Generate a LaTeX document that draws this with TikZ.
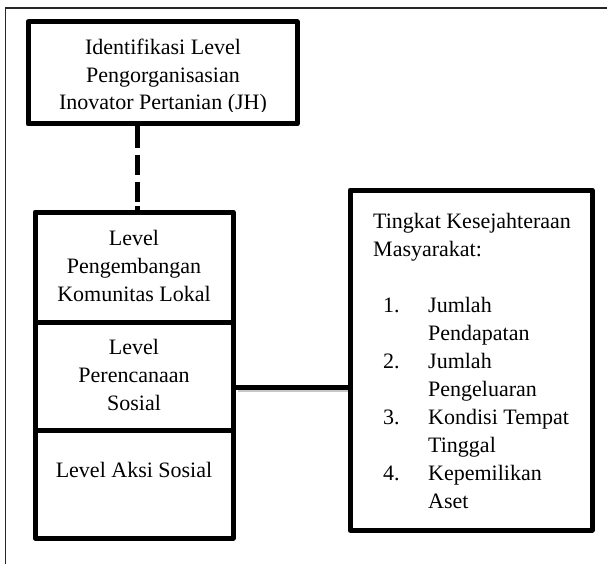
\documentclass[tikz,border=0pt]{standalone}
\usepackage{fontspec}
\setmainfont{Liberation Serif}
\usetikzlibrary{calc}
\begin{document}
\begin{tikzpicture}[x=1pt,y=-1pt,
  box/.style={draw, line width=5pt, line join=round, inner sep=0pt, fill=white},
  txt/.style={font=\fontsize{22}{27.8}\selectfont, inner sep=0pt, align=center, anchor=base},
  ltxt/.style={font=\fontsize{22}{28}\selectfont, inner sep=0pt, align=left, anchor=base west},
  conn/.style={line width=5pt},
  frame/.style={line width=1.6pt, black!85}]
\useasboundingbox (0,0) rectangle (607,564);
% outer frame
\draw[frame] (5.5,564) -- (5.5,8) -- (607,8);
% boxes
\node[box, minimum width=269pt, minimum height=102pt] (top) at (162.5,73) {};
\node[box, minimum width=198pt, minimum height=110pt] (b1) at (134,267) {};
\node[box, minimum width=198pt, minimum height=108pt] (b2) at (134,376) {};
\node[box, minimum width=198pt, minimum height=108pt] (b3) at (134,484) {};
\node[box, minimum width=242pt, minimum height=340pt] (r) at (471,360) {};
% texts (anchor = baseline of the last line)
\begin{scope}
\clip (28,22) rectangle (297,112);
\node[txt] (ttop) at (163,110) {Identifikasi Level\\Pengorganisasian\\Inovator Pertanian (JH)};
\end{scope}
\node[txt] (t1) at (134,301) {Level\\Pengembangan\\Komunitas Lokal};
\node[txt] (t2) at (134,410) {Level\\Perencanaan\\Sosial};
\node[txt] (t3) at (134,477) {Level Aksi Sosial};
\node[ltxt] (tr) at (373,508) {Tingkat Kesejahteraan\\Masyarakat:\\\mbox{}\\
\hspace*{10pt}\makebox[45pt][l]{1.}Jumlah\\\hspace*{55pt}Pendapatan\\
\hspace*{10pt}\makebox[45pt][l]{2.}Jumlah\\\hspace*{55pt}Pengeluaran\\
\hspace*{10pt}\makebox[45pt][l]{3.}Kondisi Tempat\\\hspace*{55pt}Tinggal\\
\hspace*{10pt}\makebox[45pt][l]{4.}Kepemilikan\\\hspace*{55pt}Aset};
% connectors
\coordinate (dx) at (137,0);
\draw[conn, dash pattern=on 22pt off 6.5pt on 20pt off 6.5pt on 20pt off 4pt] (dx |- top.south) -- (dx |- b1.north);
\coordinate (cy) at (0,387);
\draw[line width=2pt, black!22] ($(cy -| b2.east)+(2,3.5)$) -- ($(cy -| r.west)+(0,3.5)$);
\draw[conn] (cy -| b2.east) -- (cy -| r.west);
\end{tikzpicture}
\end{document}
